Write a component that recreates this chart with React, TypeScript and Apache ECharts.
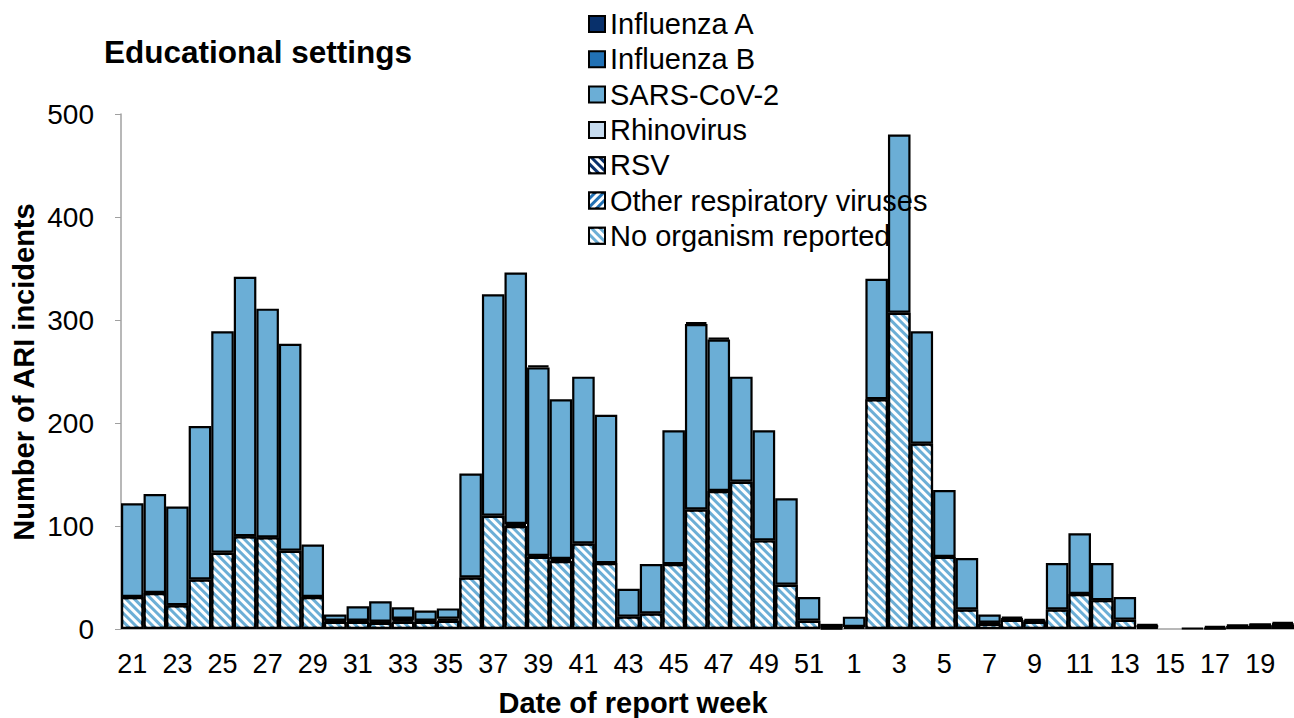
import React, { useEffect, useRef } from 'react';
import * as echarts from 'echarts';

const weeks = [
  '21','22','23','24','25','26','27','28','29','30','31','32','33','34','35','36',
  '37','38','39','40','41','42','43','44','45','46','47','48','49','50','51','52',
  '1','2','3','4','5','6','7','8','9','10','11','12','13','14','15','16','17','18','19','20',
];

const noOrganism = [
  31, 35, 23, 48, 74, 90, 89, 76, 31, 7, 7, 6, 7, 7, 8, 50,
  110, 100, 70, 66, 83, 64, 12, 15, 63, 116, 134, 143, 86, 43, 8, 1,
  2, 223, 307, 180, 70, 19, 5, 9, 7, 19, 34, 28, 9, 2, 0, 0, 1, 3, 3, 4,
];
const otherViruses = [
  0, 0, 0, 0, 0, 0, 0, 0, 0, 1, 1, 1, 2, 1, 2, 0,
  0, 2, 1, 2, 0, 0, 0, 0, 0, 0, 0, 0, 0, 0, 0, 0,
  0, 0, 0, 0, 0, 0, 1, 1, 1, 0, 0, 0, 0, 1, 0, 0, 0, 0, 1, 1,
];
const rsv = [
  0, 0, 0, 0, 0, 0, 0, 0, 0, 0, 0, 0, 1, 0, 0, 0,
  0, 0, 0, 0, 0, 0, 0, 0, 0, 0, 0, 0, 0, 0, 0, 0,
  0, 0, 0, 0, 0, 0, 0, 0, 0, 0, 0, 0, 0, 0, 0, 0, 0, 0, 0, 0,
];
const rhinovirus = [
  0, 0, 0, 0, 0, 0, 0, 0, 0, 0, 0, 0, 0, 0, 0, 0,
  0, 0, 0, 0, 0, 0, 0, 0, 0, 0, 0, 0, 0, 0, 0, 0,
  0, 0, 0, 0, 0, 0, 0, 0, 0, 0, 0, 0, 0, 0, 0, 0, 0, 0, 0, 0,
];
const sarsCov2 = [
  91, 96, 96, 149, 215, 252, 222, 201, 51, 6, 14, 20, 11, 10, 10, 101,
  215, 244, 183, 155, 162, 144, 27, 48, 130, 180, 147, 102, 107, 84, 23, 4,
  10, 117, 173, 109, 65, 50, 8, 2, 2, 45, 59, 36, 22, 2, 0, 1, 2, 1, 1, 2,
];
const influenzaB = [
  0, 0, 0, 0, 0, 0, 0, 0, 0, 0, 0, 0, 0, 0, 0, 0,
  0, 0, 0, 0, 0, 0, 0, 0, 0, 0, 0, 0, 0, 0, 0, 0,
  0, 0, 0, 0, 0, 0, 0, 0, 0, 0, 0, 0, 0, 0, 0, 0, 0, 0, 0, 0,
];
const influenzaA = [
  0, 0, 0, 0, 0, 0, 0, 0, 0, 0, 0, 0, 0, 0, 0, 0,
  0, 0, 2, 0, 0, 0, 0, 0, 0, 2, 2, 0, 0, 0, 0, 0,
  0, 0, 0, 0, 0, 0, 0, 0, 0, 0, 0, 0, 0, 0, 0, 0, 0, 0, 0, 0,
];

const yTicks = { min: 0, max: 500, interval: 100 };

const FONT = '"Liberation Sans", Arial, Helvetica, sans-serif';

const toData = (arr: number[]) => arr.map((v) => (v === 0 ? '-' : v));

const stripe = (rotation: number) => ({
  symbol: 'rect',
  symbolSize: 1,
  color: '#ffffff',
  dashArrayX: [1, 0],
  dashArrayY: [3, 3],
  rotation,
});

export default function App() {
  const ref = useRef<HTMLDivElement>(null);

  useEffect(() => {
    if (!ref.current) return;
    const chart = echarts.init(ref.current, undefined, { renderer: 'svg' });

    const base = (name: string, data: number[], color: string, decal?: any) => ({
      name,
      type: 'bar',
      stack: 'total',
      data: toData(data),
      barCategoryGap: 0,
      itemStyle: {
        color,
        borderColor: '#000000',
        borderWidth: 2.2,
        ...(decal ? { decal } : {}),
      },
      emphasis: { disabled: true },
    });

    chart.setOption({
      animation: false,
      title: {
        text: 'Educational settings',
        left: 104,
        top: 36,
        padding: 0,
        textStyle: { fontFamily: FONT, fontWeight: 'bold', fontSize: 31.5, color: '#000' },
      },
      legend: {
        orient: 'vertical',
        left: 583,
        top: 4,
        itemWidth: 16,
        itemHeight: 16,
        itemGap: 5.3,
        icon: 'rect',
        selectedMode: false,
        data: [
          'Influenza A',
          'Influenza B',
          'SARS-CoV-2',
          'Rhinovirus',
          'RSV',
          'Other respiratory viruses',
          'No organism reported',
        ],
        itemStyle: { borderColor: '#000', borderWidth: 2 },
        textStyle: { fontFamily: FONT, fontSize: 29, lineHeight: 30, color: '#000' },
      },
      grid: { left: 121, top: 114, width: 1183, height: 515, containLabel: false },
      xAxis: {
        type: 'category',
        data: weeks,
        boundaryGap: true,
        axisLine: { lineStyle: { color: '#a0a0a0', width: 1.5 } },
        axisTick: { interval: 0, length: 6, lineStyle: { color: '#a0a0a0' } },
        axisLabel: {
          interval: 1,
          margin: 21,
          fontFamily: FONT,
          fontSize: 27,
          color: '#000',
        },
        splitLine: { show: false },
      },
      yAxis: {
        type: 'value',
        min: yTicks.min,
        max: yTicks.max,
        interval: yTicks.interval,
        axisLine: { show: true, lineStyle: { color: '#a0a0a0', width: 1.5 } },
        axisTick: { show: true, length: 6, lineStyle: { color: '#a0a0a0' } },
        axisLabel: { margin: 27, fontFamily: FONT, fontSize: 28, color: '#000' },
        splitLine: { show: false },
      },
      graphic: [
        {
          type: 'text',
          x: 24,
          y: 372,
          rotation: Math.PI / 2,
          style: {
            text: 'Number of ARI incidents',
            align: 'center',
            verticalAlign: 'middle',
            font: `bold 29px ${FONT}`,
            fill: '#000',
          },
        },
        {
          type: 'text',
          x: 633,
          y: 703,
          style: {
            text: 'Date of report week',
            align: 'center',
            verticalAlign: 'middle',
            font: `bold 29px ${FONT}`,
            fill: '#000',
          },
        },
      ],
      series: [
        base('No organism reported', noOrganism, '#6baed6', stripe(Math.PI / 4)),
        base('Other respiratory viruses', otherViruses, '#2171b5', stripe(-Math.PI / 4)),
        base('RSV', rsv, '#08306b', stripe(Math.PI / 4)),
        base('Rhinovirus', rhinovirus, '#c6dbef'),
        base('SARS-CoV-2', sarsCov2, '#6baed6'),
        base('Influenza B', influenzaB, '#2171b5'),
        base('Influenza A', influenzaA, '#08306b'),
      ],
    });

    return () => chart.dispose();
  }, []);

  return (
    <div
      ref={ref}
      style={{ position: 'fixed', left: 0, top: 0, width: 1294, height: 718, overflow: 'hidden', background: '#fff' }}
    />
  );
}
